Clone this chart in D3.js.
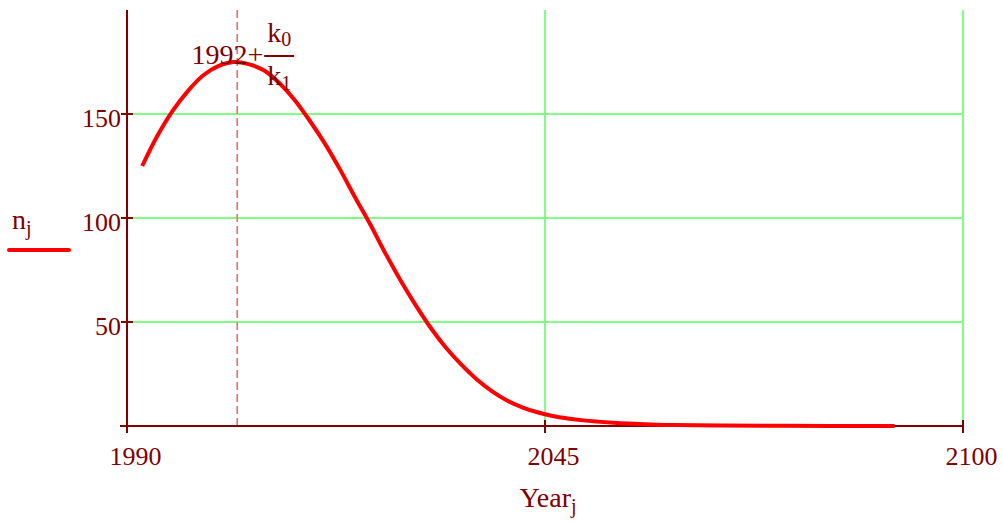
<!DOCTYPE html>
<html>
<head>
<meta charset="utf-8">
<script src="https://cdn.jsdelivr.net/npm/d3@7"></script>
<style>
  body { margin: 0; background: #fff; }
  text { font-family: "Liberation Serif", "DejaVu Serif", serif; fill: #800000; }
</style>
</head>
<body>
<svg id="chart" width="1003" height="521"></svg>
<script>
// values
const years = [1992, 1994, 1996, 1998, 2000, 2002, 2004, 2006, 2008, 2010, 2012, 2014,
  2016, 2018, 2020, 2022, 2024, 2026, 2028, 2030, 2032, 2034, 2036, 2038, 2040,
  2042, 2044, 2046, 2048, 2050, 2054, 2058, 2062, 2068, 2076, 2091];
const nValues = [125, 139.5, 151.5, 161, 168.5, 173, 175, 174, 171, 165, 157, 147,
  136, 123.5, 110, 97, 83, 70, 58, 47, 37.5, 29.5, 22.5, 16.8, 12.3,
  9, 6.6, 4.8, 3.6, 2.7, 1.6, 0.9, 0.5, 0.25, 0.1, 0];
const xTicks = [1990, 2045, 2100];
const yTicks = [50, 100, 150];
const xGrid = [2045, 2100];
const peakYear = 2004.5;   // 1992 + k0/k1

const svg = d3.select('#chart');
const margin = { left: 127, right: 40, top: 10, bottom: 95 };
const width = 1003, height = 521;

const x = d3.scaleLinear().domain([1990, 2100]).range([margin.left, width - margin.right]);
const y = d3.scaleLinear().domain([0, 200]).range([height - margin.bottom, margin.top]);

const axisColor = '#800000';
const gridColor = '#80ff80';

// grid
svg.append('g').selectAll('line.hg')
  .data(yTicks).enter().append('line')
  .attr('x1', x(1990) + 6).attr('x2', x(2100))
  .attr('y1', d => y(d)).attr('y2', d => y(d))
  .attr('stroke', gridColor).attr('stroke-width', 2);

svg.append('g').selectAll('line.vg')
  .data(xGrid).enter().append('line')
  .attr('x1', d => x(d)).attr('x2', d => x(d))
  .attr('y1', y(200)).attr('y2', y(0) - 6)
  .attr('stroke', gridColor).attr('stroke-width', 2);

// dashed marker at peak
svg.append('line')
  .attr('x1', x(peakYear)).attr('x2', x(peakYear))
  .attr('y1', y(200)).attr('y2', y(0))
  .attr('stroke', '#f07070').attr('stroke-width', 1.6)
  .attr('stroke-dasharray', '8,4');

// axes
const xAxis = d3.axisBottom(x).tickValues(xTicks).tickSize(0).tickFormat(d3.format('d'));
const gx = svg.append('g').attr('transform', `translate(0,${y(0)})`).call(xAxis);
gx.select('.domain').remove();
gx.selectAll('text')
  .attr('font-size', 26).attr('dy', null).attr('y', 39).attr('dx', 8)
  .style('font-family', '"Liberation Serif", serif').attr('fill', axisColor);

const yAxis = d3.axisLeft(y).tickValues(yTicks).tickSize(0);
const gy = svg.append('g').attr('transform', `translate(${x(1990)},0)`).call(yAxis);
gy.select('.domain').remove();
gy.selectAll('text')
  .attr('font-size', 26).attr('dy', 12).attr('x', -6)
  .style('font-family', '"Liberation Serif", serif').attr('fill', axisColor);

svg.append('line')
  .attr('x1', x(1990) - 7).attr('x2', x(2100))
  .attr('y1', y(0)).attr('y2', y(0))
  .attr('stroke', axisColor).attr('stroke-width', 2);
svg.append('line')
  .attr('x1', x(1990)).attr('x2', x(1990))
  .attr('y1', y(200)).attr('y2', y(0) + 6)
  .attr('stroke', axisColor).attr('stroke-width', 2);

svg.append('g').selectAll('line')
  .data(xTicks).enter().append('line')
  .attr('x1', d => x(d)).attr('x2', d => x(d))
  .attr('y1', y(0) - 6).attr('y2', y(0) + 7)
  .attr('stroke', axisColor).attr('stroke-width', 2);
svg.append('g').selectAll('line')
  .data(yTicks).enter().append('line')
  .attr('x1', x(1990) - 6).attr('x2', x(1990) + 6)
  .attr('y1', d => y(d)).attr('y2', d => y(d))
  .attr('stroke', axisColor).attr('stroke-width', 2);

// curve
const line = d3.line()
  .x((d, i) => x(years[i]))
  .y(d => y(d))
  .curve(d3.curveCatmullRom.alpha(0.5));

svg.append('path')
  .datum(nValues)
  .attr('d', line)
  .attr('fill', 'none')
  .attr('stroke', '#ff0000')
  .attr('stroke-width', 4);

// x label
const xl = svg.append('text')
  .attr('x', x(2045) + 3).attr('y', 507)
  .attr('text-anchor', 'middle').attr('font-size', 28);
xl.append('tspan').text('Year');
xl.append('tspan').text('j').attr('font-size', 20).attr('dy', 6);

// legend
const lg = svg.append('text').attr('x', 12).attr('y', 229).attr('font-size', 28);
lg.append('tspan').text('n');
lg.append('tspan').text('j').attr('font-size', 20).attr('dy', 6);
svg.append('line')
  .attr('x1', 9).attr('x2', 69).attr('y1', 250).attr('y2', 250)
  .attr('stroke', '#ff0000').attr('stroke-width', 4).attr('stroke-linecap', 'round');

// annotation 1992 + k0/k1
const ax = x(peakYear);
svg.append('text')
  .attr('x', ax + 26).attr('y', 64).attr('text-anchor', 'end')
  .attr('font-size', 28).text('1992+');
svg.append('line')
  .attr('x1', ax + 27).attr('x2', ax + 57).attr('y1', 56).attr('y2', 56)
  .attr('stroke', axisColor).attr('stroke-width', 2);
const num = svg.append('text').attr('x', ax + 42).attr('y', 42)
  .attr('text-anchor', 'middle').attr('font-size', 28);
num.append('tspan').text('k');
num.append('tspan').text('0').attr('font-size', 20).attr('dy', 4);
const den = svg.append('text').attr('x', ax + 42).attr('y', 85)
  .attr('text-anchor', 'middle').attr('font-size', 28);
den.append('tspan').text('k');
den.append('tspan').text('1').attr('font-size', 20).attr('dy', 5);
</script>
</body>
</html>
